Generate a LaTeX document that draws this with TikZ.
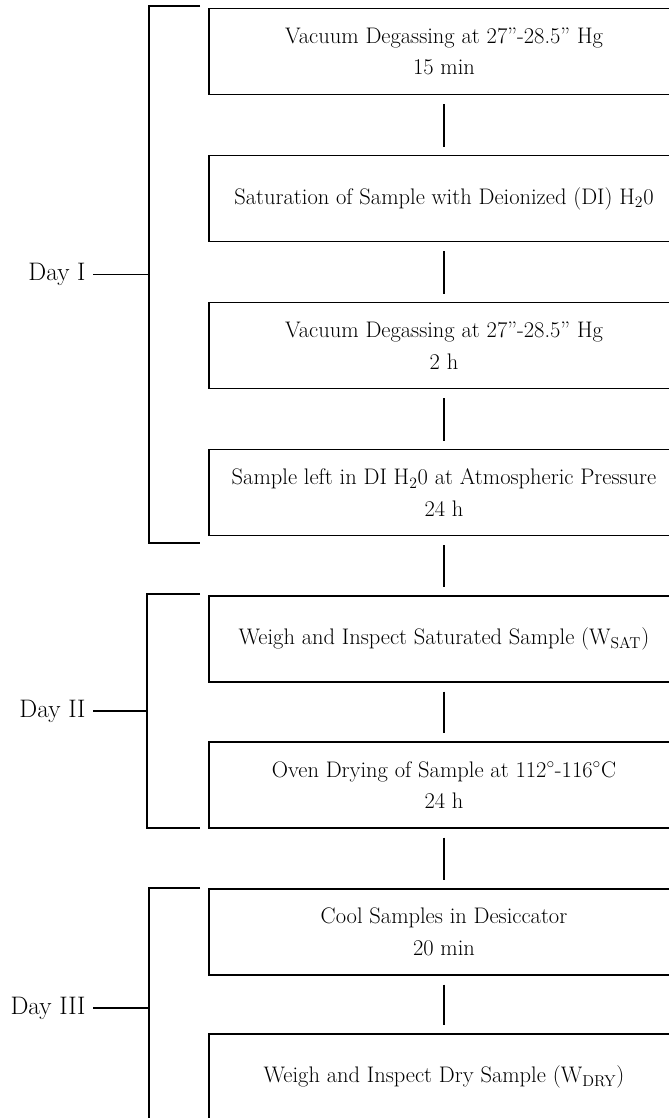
\documentclass[tikz,border=0pt]{standalone}
\usepackage{fontspec}
\setmainfont{Latin Modern Roman}
\usepackage{tikz}
\usetikzlibrary{positioning}

\begin{document}
\begin{tikzpicture}[
  x=0.025cm, y=-0.025cm,
  font=\fontsize{16}{22.5}\selectfont,
  stepbox/.style={draw,line width=1pt,minimum width=11.75cm,minimum height=2.15cm,align=center,inner sep=2pt},
  timedbox/.style={stepbox,execute at begin node={\rule{0pt}{17pt}}},
  link/.style={line width=0.9pt,shorten <=0.225cm,shorten >=0.2cm},
  bracket/.style={line width=0.8pt},
  daylabel/.style={anchor=east,inner sep=0pt,inner xsep=0.18cm,font=\fontsize{18}{20}\selectfont},
  tick/.style={line width=0.8pt}
]
\useasboundingbox (0,0) rectangle (669,1118);
\clip (0,0) rectangle (669,1118);

% process steps
\node[timedbox] (degas) at (444,51.5) {Vacuum Degassing at 27''-28.5'' Hg\\15 min};
\node[stepbox] (saturate) at (444,198.5) {Saturation of Sample with Deionized (DI) H\textsubscript{2}0};
\node[timedbox] (degaslong) at (444,345.5) {Vacuum Degassing at 27''-28.5'' Hg\\2 h};
\node[timedbox] (soak) at (444,492.5) {Sample left in DI H\textsubscript{2}0 at Atmospheric Pressure\\24 h};
\node[stepbox] (weighsat) at (444,639) {Weigh and Inspect Saturated Sample (W\textsubscript{SAT})};
\node[timedbox] (oven) at (444,785) {Oven Drying of Sample at 112$^{\circ}$-116$^{\circ}$C\\24 h};
\node[timedbox] (cool) at (444,932) {Cool Samples in Desiccator\\20 min};
\node[stepbox] (weighdry) at (444,1077) {Weigh and Inspect Dry Sample (W\textsubscript{DRY})};

\draw[link] (degas) -- (saturate);
\draw[link] (saturate) -- (degaslong);
\draw[link] (degaslong) -- (soak);
\draw[link] (soak) -- (weighsat);
\draw[link] (weighsat) -- (oven);
\draw[link] (oven) -- (cool);
\draw[link] (cool) -- (weighdry);

% day brackets
\coordinate (dayImid) at (149,274.5);
\draw[bracket] (200,6) -- (149,6) -- (149,543) -- (200,543);
\node[daylabel] (dayI) at (93,274.5) {Day I};
\draw[tick] (dayI) -- (dayImid);

\coordinate (dayIImid) at (147,711);
\draw[bracket] (200,594) -- (147,594) -- (147,828) -- (200,828);
\node[daylabel] (dayII) at (93,711) {Day II};
\draw[tick] (dayII) -- (dayIImid);

\coordinate (dayIIImid) at (149,1008);
\draw[bracket] (200,888) -- (149,888) -- (149,1130);
\node[daylabel] (dayIII) at (93,1008) {Day III};
\draw[tick] (dayIII) -- (dayIIImid);

\end{tikzpicture}
\end{document}
